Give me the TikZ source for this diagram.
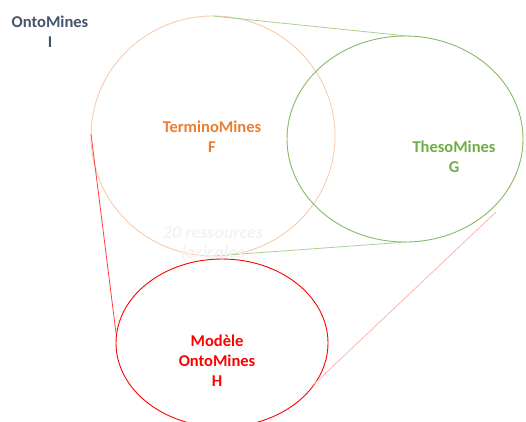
\documentclass[tikz,border=0pt]{standalone}
\usepackage{fontspec}
\setmainfont{Carlito}
\begin{document}
\begin{tikzpicture}[x=1pt,y=-1pt,
  lbl/.style={font=\bfseries\fontsize{16.5}{20}\selectfont, align=center, inner sep=0pt},
  ring/.style={line width=0.9pt},
  conn/.style={line width=0.8pt}]
\definecolor{slate}{HTML}{44546A}
\definecolor{orng}{HTML}{ED7D31}
\definecolor{orngl}{HTML}{F8CBAD}
\definecolor{grn}{HTML}{70AD47}
\definecolor{grnl}{HTML}{A9D18E}
\definecolor{pinkl}{HTML}{FFB3B3}
\definecolor{faint}{HTML}{F3F3F3}
\useasboundingbox (0,0) rectangle (526,421);
% ellipse centres
\coordinate (F) at (213,136);
\coordinate (G) at (405,139);
\coordinate (H) at (222,343);
% ellipses
\draw[orngl, ring] (F) ellipse [x radius=122, y radius=120];
\draw[grn!85, ring] (G) ellipse [x radius=118, y radius=103];
\draw[red, ring] (H) ellipse [x radius=106, y radius=84];
% tangent points
\coordinate (Ft) at (213,16);
\coordinate (Fb) at (213,256);
\coordinate (Fl) at (91,134);
\coordinate (Gt) at (407,36);
\coordinate (Gb) at (407,242);
\coordinate (Gr) at (496,212);
\coordinate (Hl) at (116,333);
\coordinate (Hr) at (312,386);
\draw[grnl, conn] (Ft) -- (Gt);
\draw[grnl, conn] (Fb) -- (Gb);
\draw[red!75, conn] (Fl) -- (Hl);
\draw[pinkl, conn] (Gr) -- (Hr);
% labels
\node[lbl, text=slate] (tI) at (50,32) {OntoMines\\I};
\node[lbl, text=orng] (tF) at (212,137) {TerminoMines\\F};
\node[lbl, text=grn] (tG) at (454,157) {ThesoMines\\G};
\node[lbl, text=red] (tH) at (217,361) {Modèle\\OntoMines\\H};
\node[font=\bfseries\itshape\fontsize{18}{20}\selectfont, text=faint, align=center, inner sep=0pt] (tR) at (213,243) {20 ressources\\lexicales};
\end{tikzpicture}
\end{document}
